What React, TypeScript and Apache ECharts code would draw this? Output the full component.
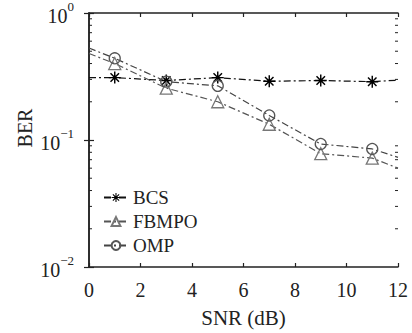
import React, { useEffect, useRef } from "react";
import * as echarts from "echarts";

const snr = [0, 1, 3, 5, 7, 9, 11, 12];
const bcs = [0.31, 0.31, 0.294, 0.31, 0.29, 0.294, 0.288, 0.296];
const fbmpo = [0.48, 0.4, 0.256, 0.2, 0.133, 0.078, 0.072, 0.06];
const omp = [0.53, 0.44, 0.288, 0.267, 0.156, 0.093, 0.085, 0.073];
const xTicks = [0, 2, 4, 6, 8, 10, 12];
const minorTicks = [0.02, 0.03, 0.04, 0.05, 0.06, 0.07, 0.08, 0.09, 0.2, 0.3, 0.4, 0.5, 0.6, 0.7, 0.8, 0.9];

const FONT = "Liberation Serif";
const FRAME = "#222";

function star(): string {
  const t = 0.12;
  const parts: string[] = [];
  [0, 45, 90, 135].forEach((deg) => {
    const a = (deg * Math.PI) / 180;
    const c = Math.cos(a), s = Math.sin(a);
    const pts = [
      [-1, -t], [1, -t], [1, t], [-1, t],
    ].map(([x, y]) => [x * c - y * s, x * s + y * c]);
    parts.push(
      "M" + pts.map((p) => p[0].toFixed(3) + "," + p[1].toFixed(3)).join(" L") + " Z"
    );
  });
  return "path://" + parts.join(" ");
}

function seriesData(vals: number[]) {
  return snr.map((x, i) => {
    const item: any = { value: [x, vals[i]] };
    if (i === 0 || i === snr.length - 1) item.symbol = "none";
    return item;
  });
}

export default function App() {
  const ref = useRef<HTMLDivElement>(null);
  useEffect(() => {
    if (!ref.current) return;
    const chart = echarts.init(ref.current, null, { renderer: "svg" });
    const dash = [7, 3, 2, 3];
    const option: any = {
      animation: false,
      textStyle: { fontFamily: FONT },
      grid: { left: 89, right: 14, top: 12, bottom: 63 },
      xAxis: [
        {
          type: "value",
          min: 0,
          max: 12,
          interval: 2,
          axisLine: { show: true, lineStyle: { color: FRAME, width: 1.5 } },
          axisTick: { show: true, inside: true, length: 4, lineStyle: { color: FRAME, width: 1.2 } },
          axisLabel: {
            fontFamily: FONT,
            fontSize: 20,
            color: "#222",
            margin: 13,
            formatter: (v: number) => (xTicks.includes(v) ? String(v) : ""),
          },
          splitLine: { show: false },
          name: "SNR (dB)",
          nameLocation: "middle",
          nameGap: 40,
          nameTextStyle: { fontFamily: FONT, fontSize: 21, color: "#222" },
        },
        {
          type: "value",
          position: "top",
          min: 0,
          max: 12,
          interval: 2,
          axisLine: { show: true, lineStyle: { color: FRAME, width: 1.5 } },
          axisTick: { show: true, inside: true, length: 4, lineStyle: { color: FRAME, width: 1.2 } },
          axisLabel: { show: false },
          splitLine: { show: false },
        },
      ],
      yAxis: [
        {
          type: "log",
          logBase: 10,
          min: 0.01,
          max: 1,
          axisLine: { show: true, lineStyle: { color: FRAME, width: 1.5 } },
          axisTick: { show: true, inside: true, length: 5, lineStyle: { color: FRAME, width: 1.2 } },
          splitLine: { show: false },
          axisLabel: {
            margin: 15,
            formatter: (v: number) => {
              const e = Math.round(Math.log10(v));
              return "{b|10}{s|" + (e < 0 ? "\u2212" + -e : String(e)) + "}";
            },
            rich: {
              b: { fontFamily: FONT, fontSize: 20, color: "#222", verticalAlign: "bottom", lineHeight: 26 },
              s: { fontFamily: FONT, fontSize: 13, color: "#222", verticalAlign: "top", lineHeight: 26 },
            },
          },
        },
        {
          type: "log",
          logBase: 10,
          min: 0.01,
          max: 1,
          position: "right",
          axisLine: { show: true, lineStyle: { color: FRAME, width: 1.5 } },
          axisTick: { show: true, inside: true, length: 5, lineStyle: { color: FRAME, width: 1.2 } },
          splitLine: { show: false },
          axisLabel: { show: false },
        },
      ],
      legend: {
        data: ["BCS", "FBMPO", "OMP"],
        orient: "vertical",
        left: 103,
        top: 188,
        itemWidth: 24,
        itemHeight: 11,
        itemGap: 5,
        padding: 0,
        textStyle: { fontFamily: FONT, fontSize: 19, color: "#222", lineHeight: 18 },
      },
      graphic: [
        {
          type: "text",
          x: 25,
          y: 128,
          rotation: Math.PI / 2,
          style: {
            text: "BER",
            fontFamily: FONT,
            fontSize: 20,
            fill: "#222",
            align: "center",
            verticalAlign: "middle",
          },
        },
      ],
      series: [
        {
          type: "custom",
          silent: true,
          xAxisIndex: 0,
          yAxisIndex: 0,
          data: minorTicks.map((v) => [0, v]),
          renderItem: (params: any, api: any) => {
            const v = api.value(1);
            const l = api.coord([0, v]);
            const r = api.coord([12, v]);
            const st = { stroke: FRAME, lineWidth: 1 };
            return {
              type: "group",
              children: [
                { type: "line", shape: { x1: l[0], y1: l[1], x2: l[0] + 3, y2: l[1] }, style: st },
                { type: "line", shape: { x1: r[0] - 3, y1: r[1], x2: r[0], y2: r[1] }, style: st },
              ],
            };
          },
        },
        {
          name: "BCS",
          type: "line",
          data: seriesData(bcs),
          symbol: star(),
          symbolSize: 12,
          itemStyle: { color: "#000" },
          lineStyle: { color: "#111", width: 1.2, type: dash },
        },
        {
          name: "FBMPO",
          type: "line",
          data: seriesData(fbmpo),
          symbol: "triangle",
          symbolSize: 12,
          itemStyle: { color: "rgba(0,0,0,0)", borderColor: "#777", borderWidth: 1.3 },
          lineStyle: { color: "#555", width: 1.2, type: dash },
        },
        {
          name: "OMP",
          type: "line",
          data: seriesData(omp),
          symbol: "circle",
          symbolSize: 11,
          itemStyle: { color: "rgba(0,0,0,0)", borderColor: "#555", borderWidth: 1.3 },
          lineStyle: { color: "#444", width: 1.2, type: dash },
        },
      ],
    };
    chart.setOption(option);
    return () => chart.dispose();
  }, []);
  return (
    <div
      ref={ref}
      style={{ position: "absolute", left: 0, top: 0, width: 412, height: 333, background: "#fff" }}
    />
  );
}
